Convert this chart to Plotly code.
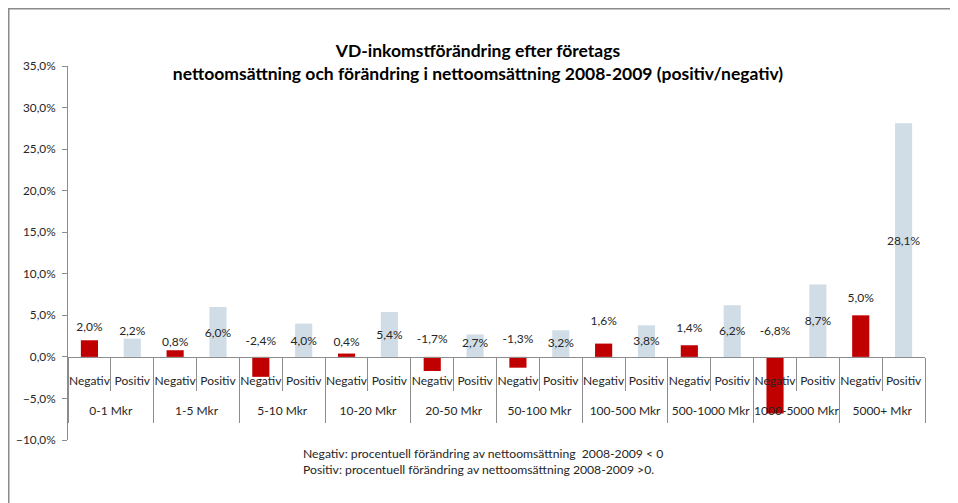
import plotly.graph_objects as go

groups = ["0-1 Mkr", "1-5 Mkr", "5-10 Mkr", "10-20 Mkr", "20-50 Mkr", "50-100 Mkr",
          "100-500 Mkr", "500-1000 Mkr", "1000-5000 Mkr", "5000+ Mkr"]
subs = ["Negativ", "Positiv"]
negativ = [2.0, 0.8, -2.4, 0.4, -1.7, -1.3, 1.6, 1.4, -6.8, 5.0]
positiv = [2.2, 6.0, 4.0, 5.4, 2.7, 3.2, 3.8, 6.2, 8.7, 28.1]
# vertical placement of the data labels (in % units), as in the original chart
neg_label_y = [3.5, 1.65, 1.85, 1.65, 2.05, 2.05, 4.15, 3.3, 2.95, 7.0]
pos_label_y = [3.0, 2.8, 1.85, 2.5, 1.6, 1.6, 1.75, 2.95, 4.2, 13.8]

title_text = ("VD-inkomstförändring efter företags<br>"
              "nettoomsättning och förändring i nettoomsättning 2008-2009 (positiv/negativ)")
note_text = ("Negativ: procentuell förändring av nettoomsättning  2008-2009 < 0<br>"
             "Positiv: procentuell förändring av nettoomsättning 2008-2009 >0.")

FONT = "Lato"
RED = "#C00000"
BLUE = "#D0DDE7"
GRAY = "#8C8C8C"
TXT = "#262626"

W, H = 950, 495
L, R, T, B = 60, 33, 58, 63
PW, PH = W - L - R, H - T - B
AXPOS = 10 / 45  # the category axis sits at 0 %

def fmt(v):
    return f"{v:.1f}".replace(".", ",") + "%"

# one category per (group, sub) pair
cat_keys = [f"{g}|{s}" for g in groups for s in subs]
cat_text = [s for g in groups for s in subs]
neg_keys = [f"{g}|{subs[0]}" for g in groups]
pos_keys = [f"{g}|{subs[1]}" for g in groups]
n_cat = len(cat_keys)
group_centers = [len(subs) * i + (len(subs) - 1) / 2 for i in range(len(groups))]
group_bounds = [len(subs) * i - 0.5 for i in range(len(groups) + 1)]
xr = [-0.5, n_cat - 0.5]

fig = go.Figure()
fig.add_trace(go.Bar(x=neg_keys, y=negativ, marker=dict(color=RED, line=dict(width=0)),
                     name="Negativ", showlegend=False))
fig.add_trace(go.Bar(x=pos_keys, y=positiv, marker=dict(color=BLUE, line=dict(width=0)),
                     name="Positiv", showlegend=False))
fig.add_trace(go.Scatter(x=neg_keys, y=neg_label_y, mode="text", text=[fmt(v) for v in negativ],
                         textfont=dict(family=FONT, size=12, color=TXT), showlegend=False,
                         hoverinfo="skip"))
fig.add_trace(go.Scatter(x=pos_keys, y=pos_label_y, mode="text", text=[fmt(v) for v in positiv],
                         textfont=dict(family=FONT, size=12, color=TXT), showlegend=False,
                         hoverinfo="skip"))
# invisible traces so the helper axes get drawn
fig.add_trace(go.Scatter(x=group_centers, y=[0] * len(groups), xaxis="x2", mode="markers",
                         marker=dict(opacity=0), showlegend=False, hoverinfo="skip"))
fig.add_trace(go.Scatter(x=group_bounds, y=[0] * len(group_bounds), xaxis="x3", mode="markers",
                         marker=dict(opacity=0), showlegend=False, hoverinfo="skip"))

common = dict(anchor="free", position=AXPOS, automargin=False, showgrid=False, tickangle=0,
              tickfont=dict(family=FONT, size=12, color=TXT))

fig.update_layout(
    width=W, height=H,
    margin=dict(l=L, r=R, t=T, b=B),
    paper_bgcolor="white", plot_bgcolor="white",
    barmode="overlay", bargap=0.6,
    separators=", ",
    font=dict(family=FONT, size=12, color=TXT),
    title=dict(text=title_text, x=(478 - 8) / W, xref="container", xanchor="center",
               y=1 - 49 / H, yanchor="middle",
               font=dict(family=FONT, size=17.5, color="#000000", weight="bold")),
    xaxis=dict(type="category", categoryorder="array", categoryarray=cat_keys,
               range=xr, showline=True, linecolor=GRAY, linewidth=1,
               tickmode="array", tickvals=cat_keys, ticktext=cat_text,
               ticks="", ticklabelstandoff=13, **common),
    xaxis2=dict(type="linear", overlaying="x", range=xr, showline=False, zeroline=False,
                tickmode="array", tickvals=group_centers, ticktext=groups,
                ticks="outside", ticklen=33, tickcolor=GRAY, tickwidth=1,
                ticklabelstandoff=10, **common),
    xaxis3=dict(type="linear", overlaying="x", range=xr, showline=False, zeroline=False,
                tickmode="array", tickvals=group_bounds, ticktext=[""] * len(group_bounds),
                showticklabels=False,
                ticks="outside", ticklen=65, tickcolor=GRAY, tickwidth=1, **common),
    yaxis=dict(range=[-10, 35], dtick=5, tickformat=".1f", ticksuffix="%",
               showline=True, linecolor=GRAY, linewidth=1, ticks="outside",
               ticklen=5, tickcolor=GRAY, showgrid=False, zeroline=False,
               ticklabelstandoff=4, automargin=False,
               tickfont=dict(family=FONT, size=11.8, color=TXT)),
    shapes=[dict(type="rect", xref="paper", yref="paper",
                 x0=(0.75 - L) / PW, x1=1.3, y0=-1, y1=(PH + T - 0.75) / PH,
                 line=dict(color="#8A8A8A", width=1.5), fillcolor="rgba(0,0,0,0)",
                 layer="below")],
    annotations=[dict(text=note_text, xref="paper", yref="paper",
                      x=(293 - L) / PW, y=(PH + T - 453) / PH, xanchor="left",
                      yanchor="middle", align="left", showarrow=False,
                      font=dict(family=FONT, size=12.2, color=TXT))],
)

fig.write_html("out.html", config={"displayModeBar": False})
